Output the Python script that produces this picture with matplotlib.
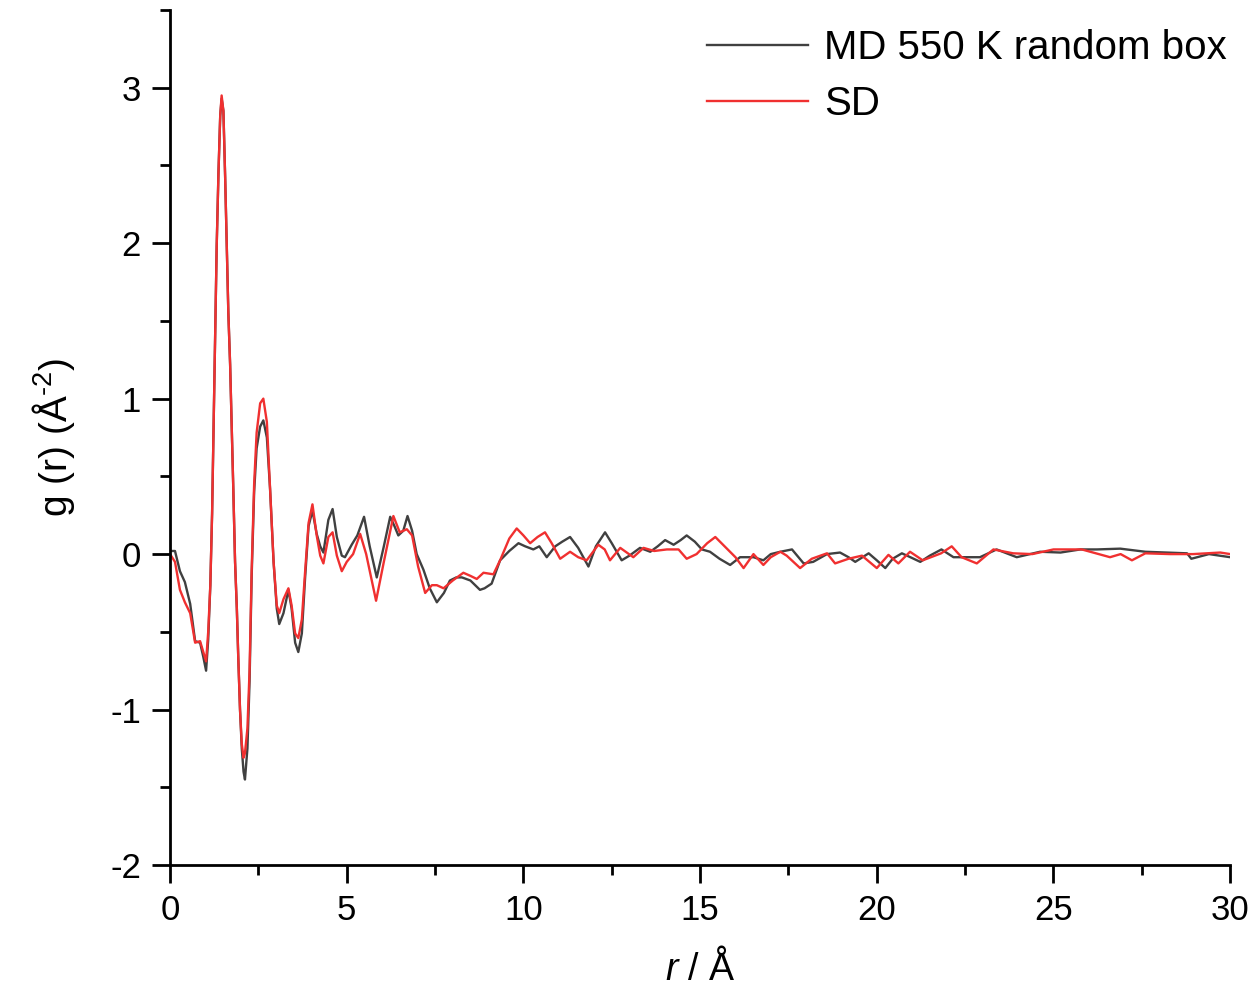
import matplotlib
matplotlib.use("Agg")
import matplotlib.pyplot as plt
from matplotlib.ticker import MultipleLocator

plt.rcParams['font.family'] = ['Liberation Sans', 'DejaVu Sans']
plt.rcParams['mathtext.fontset'] = 'custom'
plt.rcParams['mathtext.rm'] = 'Liberation Sans'
plt.rcParams['mathtext.it'] = 'Liberation Sans:italic'
plt.rcParams['axes.unicode_minus'] = False

# MD 550 K random box
r_md = [0.0, 0.14, 0.28, 0.42, 0.57, 0.71, 0.85, 0.94, 1.02, 1.08, 1.14, 1.19, 1.23, 1.27,
        1.32, 1.37, 1.42, 1.46, 1.51, 1.56, 1.60, 1.65, 1.70, 1.75, 1.79, 1.84, 1.89, 1.93,
        1.98, 2.03, 2.08, 2.12, 2.19, 2.25, 2.31, 2.38, 2.45, 2.55, 2.64, 2.74, 2.83, 2.93,
        3.02, 3.09, 3.21, 3.35, 3.44, 3.54, 3.63, 3.73, 3.82, 3.92, 4.03, 4.15, 4.25, 4.34,
        4.48, 4.60, 4.72, 4.86, 4.95, 5.14, 5.30, 5.49, 5.65, 5.85, 6.05, 6.23, 6.35, 6.46,
        6.60, 6.72, 6.85, 6.98, 7.17, 7.35, 7.55, 7.75, 7.92, 8.1, 8.26, 8.5, 8.77, 8.9,
        9.1, 9.34, 9.6, 9.86, 10.05, 10.28, 10.45, 10.66, 10.9, 11.1, 11.32, 11.55, 11.84,
        12.05, 12.31, 12.5, 12.78, 13.0, 13.3, 13.59, 13.8, 14.01, 14.25, 14.45, 14.62,
        14.85, 15.05, 15.28, 15.55, 15.85, 16.13, 16.51, 16.79, 17.0, 17.27, 17.6, 17.93,
        18.2, 18.59, 18.96, 19.2, 19.39, 19.77, 20.0, 20.24, 20.45, 20.71, 20.95, 21.23,
        21.5, 21.83, 22.17, 22.55, 22.92, 23.39, 23.96, 24.62, 25.2, 25.76, 26.23, 26.89,
        27.6, 28.2, 28.78, 28.9, 29.4, 30.0]
g_md = [0.02, 0.02, -0.11, -0.18, -0.32, -0.56, -0.57, -0.66, -0.75, -0.55, -0.2, 0.26, 0.78, 1.34,
        1.98, 2.45, 2.82, 2.93, 2.85, 2.42, 2.02, 1.55, 1.22, 0.78, 0.42, -0.05, -0.35, -0.66,
        -1.0, -1.25, -1.4, -1.45, -1.25, -0.82, -0.14, 0.4, 0.68, 0.82, 0.86, 0.75, 0.42, -0.05,
        -0.35, -0.45, -0.38, -0.23, -0.35, -0.57, -0.63, -0.51, -0.16, 0.18, 0.28, 0.13, 0.05, 0.01,
        0.22, 0.29, 0.11, -0.01, -0.02, 0.06, 0.12, 0.24, 0.05, -0.15, 0.05, 0.24, 0.18, 0.12,
        0.15, 0.245, 0.15, 0.0, -0.1, -0.22, -0.31, -0.25, -0.17, -0.15, -0.15, -0.17, -0.23, -0.22,
        -0.19, -0.04, 0.02, 0.07, 0.05, 0.03, 0.05, -0.02, 0.05, 0.08, 0.11, 0.04, -0.08,
        0.05, 0.14, 0.07, -0.04, -0.01, 0.04, 0.015, 0.05, 0.09, 0.06, 0.09, 0.12,
        0.08, 0.03, 0.015, -0.03, -0.07, -0.02, -0.02, -0.04, 0.0, 0.015, 0.03, -0.06,
        -0.05, 0.0, 0.01, -0.02, -0.05, 0.005, -0.04, -0.09, -0.03, 0.005, -0.02, -0.05,
        -0.01, 0.03, -0.02, -0.02, -0.02, 0.03, -0.02, 0.015, 0.01, 0.03, 0.03, 0.035,
        0.015, 0.01, 0.005, -0.03, 0.0, -0.02]

# SD
r_sd = [0.0, 0.14, 0.28, 0.42, 0.57, 0.71, 0.85, 0.94, 1.02, 1.08, 1.14, 1.19, 1.23, 1.27,
        1.32, 1.37, 1.42, 1.46, 1.51, 1.56, 1.60, 1.65, 1.70, 1.75, 1.79, 1.84, 1.89, 1.93,
        1.98, 2.03, 2.08, 2.12, 2.19, 2.25, 2.31, 2.38, 2.45, 2.55, 2.64, 2.74, 2.83, 2.93,
        3.02, 3.09, 3.21, 3.35, 3.44, 3.54, 3.63, 3.73, 3.82, 3.92, 4.03, 4.15, 4.25, 4.34,
        4.48, 4.60, 4.72, 4.86, 5.0, 5.18, 5.38, 5.55, 5.83, 6.05, 6.32, 6.5, 6.7, 6.85,
        7.02, 7.22, 7.41, 7.55, 7.74, 8.0, 8.3, 8.5, 8.68, 8.87, 9.15, 9.34, 9.6, 9.81,
        10.0, 10.19, 10.4, 10.61, 10.8, 11.04, 11.32, 11.55, 11.79, 12.12, 12.3, 12.45,
        12.74, 13.11, 13.4, 13.7, 14.06, 14.39, 14.62, 14.9, 15.2, 15.43, 15.65, 15.85,
        16.0, 16.23, 16.51, 16.79, 17.0, 17.27, 17.45, 17.83, 18.16, 18.59, 18.82, 19.2,
        19.58, 20.0, 20.33, 20.61, 20.94, 21.3, 21.82, 22.12, 22.4, 22.83, 23.3, 23.86,
        24.4, 25.0, 25.8, 26.6, 26.9, 27.22, 27.6, 28.3, 28.95, 29.72, 30.0]
g_sd = [0.0, -0.05, -0.23, -0.31, -0.38, -0.57, -0.56, -0.63, -0.69, -0.5, -0.2, 0.26, 0.78, 1.34,
        1.98, 2.45, 2.82, 2.95, 2.85, 2.42, 2.02, 1.55, 1.22, 0.78, 0.42, -0.05, -0.35, -0.66,
        -1.0, -1.22, -1.31, -1.28, -1.12, -0.75, -0.1, 0.45, 0.78, 0.97, 1.0, 0.85, 0.42, -0.05,
        -0.33, -0.38, -0.29, -0.22, -0.33, -0.51, -0.54, -0.42, -0.12, 0.2, 0.32, 0.12, -0.01, -0.06,
        0.11, 0.14, -0.01, -0.11, -0.05, 0.0, 0.13, 0.0, -0.30, -0.05, 0.245, 0.14, 0.16, 0.12,
        -0.08, -0.25, -0.2, -0.2, -0.22, -0.17, -0.12, -0.14, -0.16, -0.12, -0.13, -0.04, 0.1, 0.165,
        0.12, 0.07, 0.11, 0.14, 0.07, -0.03, 0.015, -0.02, -0.04, 0.06, 0.03, -0.04,
        0.04, -0.02, 0.04, 0.02, 0.03, 0.03, -0.03, 0.0, 0.07, 0.11, 0.06, 0.015,
        -0.02, -0.09, 0.0, -0.07, -0.02, 0.015, -0.01, -0.09, -0.03, 0.005, -0.06, -0.03,
        -0.01, -0.09, -0.005, -0.06, 0.015, -0.04, 0.005, 0.05, -0.02, -0.06, 0.03, 0.005,
        0.0, 0.03, 0.03, -0.02, 0.0, -0.04, 0.005, 0.0, 0.0, 0.01, 0.0]

fig = plt.figure(figsize=(12.54, 9.96), dpi=100)
ax = fig.add_axes([0.1356, 0.1315, 0.8454, 0.8585])

ax.plot(r_md, g_md, color='#404040', lw=1.7, label='MD 550 K random box')
ax.plot(r_sd, g_sd, color='#f03030', lw=1.7, label='SD')

ax.set_xlim(0, 30)
ax.set_ylim(-2, 3.5)
ax.xaxis.set_major_locator(MultipleLocator(5))
ax.xaxis.set_minor_locator(MultipleLocator(2.5))
ax.yaxis.set_major_locator(MultipleLocator(1))
ax.yaxis.set_minor_locator(MultipleLocator(0.5))

for s in ['top', 'right']:
    ax.spines[s].set_visible(False)
for s in ['left', 'bottom']:
    ax.spines[s].set_linewidth(2)
ax.tick_params(which='major', direction='out', length=13, width=2, labelsize=25, pad=8)
ax.tick_params(which='minor', direction='out', length=7, width=2)

ax.set_xlabel(r'$\mathit{r}$ / Å', fontsize=27, labelpad=16)
ax.set_ylabel(r'g (r) (Å$^{\text{-2}}$)', fontsize=28, labelpad=24)

ax.legend(loc='upper right', frameon=False, fontsize=29, handlelength=2.5,
          handletextpad=0.4, labelspacing=0.45, borderaxespad=0.0,
          bbox_to_anchor=(1.012, 0.997))

fig.savefig('out.png', dpi=100)
